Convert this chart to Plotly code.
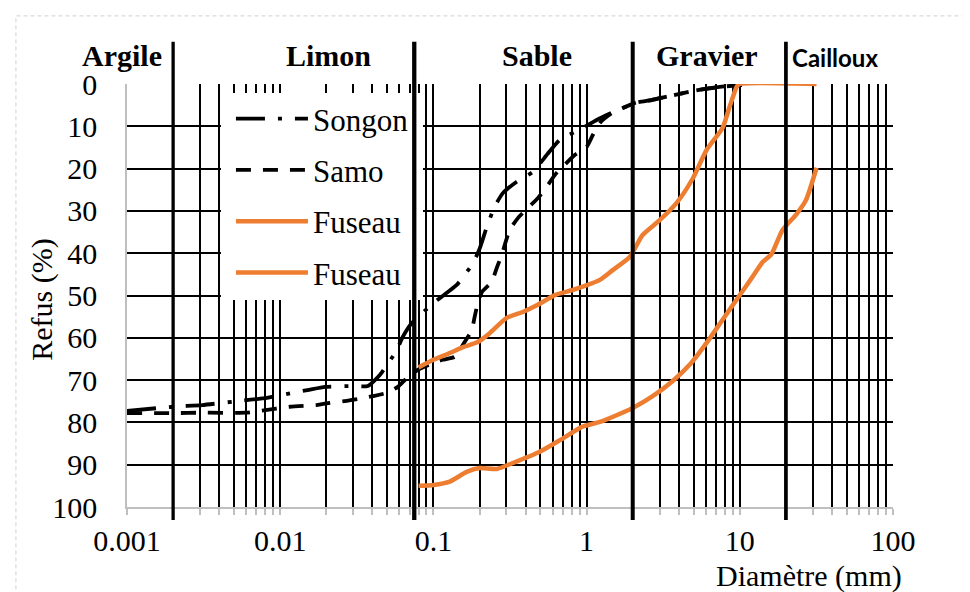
import plotly.graph_objects as go

# ---------------- data ----------------
songon_d = [0.001, 0.002, 0.0031, 0.0049, 0.0082, 0.0121, 0.0154, 0.0196, 0.0294, 0.0373,
            0.0447, 0.0577, 0.0631, 0.0723, 0.1, 0.119, 0.142, 0.181, 0.201, 0.223,
            0.251, 0.284, 0.35, 0.445, 0.557, 0.668, 0.944, 1.164, 1.46, 1.72,
            2.1, 2.66, 3.24, 4.2, 5.2, 7.4, 12.0]
songon_r = [77.3, 76.3, 75.9, 75.1, 74.2, 73.0, 72.3, 71.6, 71.4, 71.4,
            68.8, 62.9, 59.8, 56.5, 51.8, 49.7, 47.5, 42.4, 38.8, 33.8,
            29.0, 25.8, 23.1, 20.8, 16.5, 13.2, 10.4, 8.5, 6.8, 5.7,
            4.4, 3.8, 3.1, 2.2, 1.5, 0.7, 0.0]

samo_d = [0.001, 0.002, 0.0031, 0.006, 0.0076, 0.0116, 0.0173, 0.0211, 0.0272, 0.0321,
          0.0403, 0.0497, 0.0586, 0.068, 0.08, 0.1, 0.115, 0.138, 0.160, 0.178,
          0.186, 0.195, 0.207, 0.24, 0.259, 0.279, 0.315, 0.356, 0.413, 0.48,
          0.55, 0.62, 0.72, 0.836, 1.0, 1.1, 1.22, 1.46, 1.72, 2.1,
          2.66, 3.24, 4.2, 5.2, 7.4, 12.0]
samo_r = [77.8, 77.8, 77.7, 77.7, 77.2, 76.3, 75.9, 75.4, 74.9, 74.5,
          73.8, 73.0, 71.6, 69.3, 67.5, 66.0, 65.2, 64.5, 61.0, 58.2,
          55.0, 51.8, 49.2, 46.8, 43.5, 40.4, 34.5, 31.7, 29.3, 27.0,
          24.3, 21.5, 19.1, 16.8, 14.9, 12.0, 9.2, 6.9, 5.7, 4.4,
          3.8, 3.1, 2.2, 1.5, 0.7, 0.0]

fuseau1_d = [0.08, 0.1, 0.128, 0.156, 0.195, 0.233, 0.301, 0.383, 0.48, 0.62,
             0.811, 1.016, 1.22, 1.48, 1.91, 2.32, 3.0, 3.87, 4.92, 6.07,
             7.71, 8.58, 9.53, 9.96, 31.7]
fuseau1_r = [67.0, 65.2, 63.6, 62.2, 61.0, 58.9, 55.3, 53.9, 52.2, 49.9,
             48.7, 47.5, 46.3, 44.0, 40.9, 35.7, 32.2, 28.1, 22.4, 15.6,
             10.4, 5.4, 0.7, 0.0, 0.0]

fuseau2_d = [0.08, 0.1, 0.128, 0.165, 0.2, 0.26, 0.33, 0.49, 0.67, 0.94,
             1.22, 1.57, 2.0, 2.7, 3.65, 4.8, 6.07, 7.7, 10.0, 12.1,
             14.1, 16.1, 19.0, 23.4, 27.0, 31.7]
fuseau2_r = [95.0, 94.8, 94.0, 91.7, 90.8, 91.0, 89.6, 87.0, 84.2, 81.0,
             79.9, 78.3, 76.6, 73.8, 70.2, 66.0, 61.2, 55.8, 49.9, 45.6,
             42.1, 40.2, 34.5, 30.8, 27.5, 19.8]

x_decades = [0.001, 0.01, 0.1, 1, 10, 100]
x_decade_labels = ["0.001", "0.01", "0.1", "1", "10", "100"]

boundary_d = [0.002, 0.075, 2, 20]
class_names = ["Argile", "Limon", "Sable", "Gravier", "Cailloux"]

# all log grid positions (1..9 x each decade); only decades carry a label
x_ticks, x_ticklabels = [], []
for dec, lab in zip(x_decades, x_decade_labels):
    x_ticks.append(dec)
    x_ticklabels.append(lab)
    if dec < 100:
        for k in range(2, 10):
            x_ticks.append(k * dec)
            x_ticklabels.append("")

# ---------------- figure ----------------
ORANGE = "#ED7D31"
SERIF = "Liberation Serif"

fig = go.Figure()
fig.add_trace(go.Scatter(x=songon_d, y=songon_r, name="Songon", mode="lines",
                         legendgroup="g1",
                         line=dict(color="black", width=3.8, dash="29px,13px,4px,13px",
                                   shape="spline", smoothing=0.5)))
fig.add_trace(go.Scatter(x=samo_d, y=samo_r, name="Samo", mode="lines",
                         legendgroup="g2",
                         line=dict(color="black", width=3.8, dash="15px,12px",
                                   shape="spline", smoothing=0.5)))
fig.add_trace(go.Scatter(x=fuseau1_d, y=fuseau1_r, name="Fuseau", mode="lines",
                         legendgroup="g3",
                         line=dict(color=ORANGE, width=4.5, shape="spline", smoothing=0.6)))
fig.add_trace(go.Scatter(x=fuseau2_d, y=fuseau2_r, name="Fuseau", mode="lines",
                         legendgroup="g4",
                         line=dict(color=ORANGE, width=4.5, shape="spline", smoothing=0.6)))

shapes = []
# white box behind the legend (covers the grid; no data runs through it)
shapes.append(dict(type="rect", xref="paper", yref="paper",
                   x0=0.1227, x1=0.3864, y0=0.4894, y1=0.9787,
                   fillcolor="white", line=dict(width=0), layer="above"))
# thick class boundaries
bwidths = [3.3, 4.3, 4, 3.7]
for d, w in zip(boundary_d, bwidths):
    shapes.append(dict(type="line", xref="x", yref="paper", x0=d, x1=d,
                       y0=-0.031, y1=1.10, line=dict(color="black", width=w),
                       layer="above"))
# outer dashed frame
shapes.append(dict(type="rect", xref="paper", yref="paper",
                   x0=-0.145, x1=1.2, y0=-0.3, y1=1.161,
                   line=dict(color="#d0d0d0", width=1, dash="4px,3px"),
                   fillcolor="rgba(0,0,0,0)", layer="below"))

annotations = []
label_x = [-0.0065, 0.2637, 0.5352, 0.7572, 0.9243]
for name, xp in zip(class_names, label_x):
    if name == "Cailloux":
        f = dict(family="Lato", size=24, color="black", weight="bold")
        yp = 1.062
    else:
        f = dict(family=SERIF, size=30, color="black", weight="bold")
        yp = 1.067
    annotations.append(dict(text=name, xref="paper", yref="paper", x=xp, y=yp,
                            xanchor="center", yanchor="middle", showarrow=False,
                            font=f))
annotations.append(dict(text="Refus (%)", xref="paper", yref="paper", x=-0.112, y=0.4905,
                        textangle=-90, xanchor="center", yanchor="middle", showarrow=False,
                        font=dict(family=SERIF, size=30, color="black")))
annotations.append(dict(text="Diamètre (mm)", xref="paper", yref="paper", x=0.8903, y=-0.163,
                        xanchor="center", yanchor="middle", showarrow=False,
                        font=dict(family=SERIF, size=30, color="black")))

# the page body has an 8px default margin, so the figure is 8px smaller
fig.update_layout(
    width=962, height=584,
    margin=dict(l=119, r=77, t=76, b=85),
    paper_bgcolor="white", plot_bgcolor="white",
    font=dict(family=SERIF, size=30, color="black"),
    showlegend=True,
    legend=dict(x=0.1357, y=0.9811, xanchor="left", yanchor="top",
                bgcolor="rgba(0,0,0,0)", borderwidth=0,
                font=dict(family=SERIF, size=31, color="black"),
                tracegroupgap=8, itemwidth=72),
    xaxis=dict(type="log", range=[-3, 2], tickmode="array", tickvals=x_ticks,
               ticktext=x_ticklabels, showgrid=True, gridcolor="black", gridwidth=1.5,
               showline=True, linecolor="#bfbfbf", linewidth=1.5,
               ticks="outside", ticklen=6, tickcolor="#bfbfbf", tickwidth=1.5,
               zeroline=False),
    yaxis=dict(range=[100, 0], tickmode="linear", tick0=0, dtick=10,
               showgrid=True, gridcolor="black", gridwidth=1.6,
               showline=True, linecolor="#bfbfbf", linewidth=1.5,
               ticks="", ticklabelstandoff=22, zeroline=False),
    shapes=shapes,
    annotations=annotations,
)

fig.write_html("out.html")
